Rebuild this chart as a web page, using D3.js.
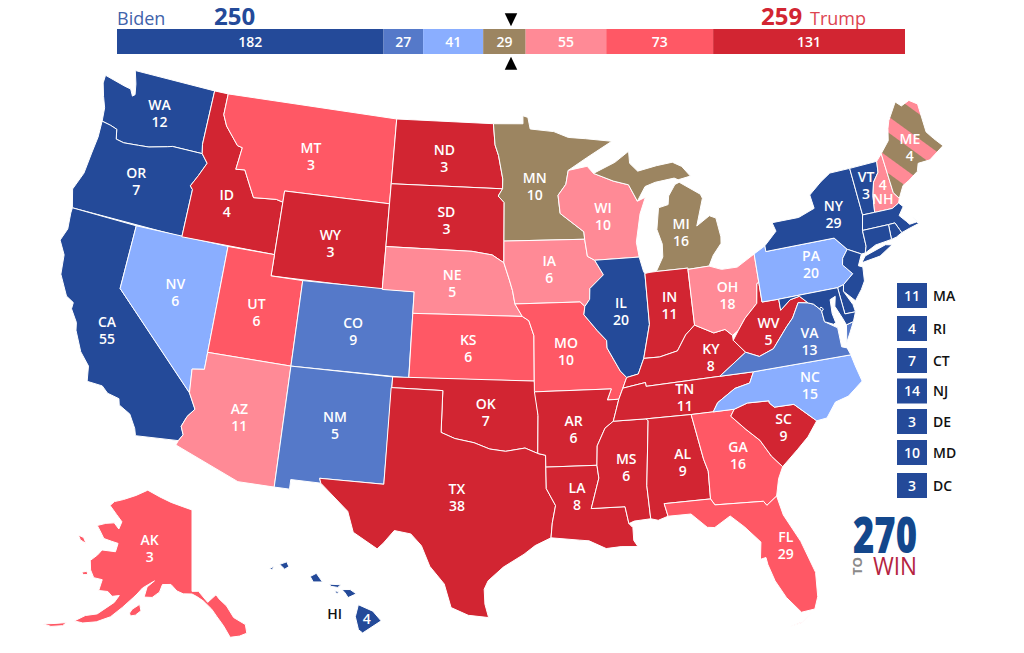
<!DOCTYPE html>
<html>
<head>
<meta charset="utf-8">
<script src="https://cdn.jsdelivr.net/npm/d3@7/dist/d3.min.js"></script>
<style>
  html, body { margin: 0; background: #fff; }
  text { font-family: "Open Sans", sans-serif; }
</style>
</head>
<body>
<div id="chart"></div>
<script>
// top bar data
var barRatings = ['safeD', 'likelyD', 'leanD', 'tossup', 'leanR', 'likelyR', 'safeR'];
var barValues = [182, 27, 41, 29, 55, 73, 131];
var bidenTotal = 250, trumpTotal = 259, totalVotes = 538;

// states
var stateCodes = ['WA','OR','CA','NV','ID','MT','WY','UT','CO','AZ','NM','ND','SD','NE','KS','OK','TX','MN','IA','MO','AR','LA','WI','IL','MS','MI','IN','KY','TN','AL','OH','WV','GA','FL','SC','NC','VA','PA','NY','VT','NH','ME','MA','RI','CT','NJ','DE','MD','DC','AK','HI'];
var stateVotes = [12,7,55,6,4,3,3,6,9,11,5,3,3,5,6,7,38,10,6,10,6,8,10,20,6,16,11,8,11,9,18,5,16,29,9,15,13,20,29,3,4,4,11,4,7,14,3,10,3,3,4];
var stateRatings = ['safeD','safeD','safeD','leanD','safeR','likelyR','safeR','likelyR','likelyD','leanR','likelyD','safeR','safeR','leanR','likelyR','safeR','safeR','tossup','leanR','likelyR','safeR','safeR','leanR','safeD','safeR','tossup','safeR','safeR','safeR','safeR','leanR','safeR','likelyR','likelyR','safeR','leanD','likelyD','leanD','safeD','safeD','leanR','split','safeD','safeD','safeD','safeD','safeD','safeD','safeD','likelyR','safeD'];

// small states listed in the side legend
var sideCodes = ['MA','RI','CT','NJ','DE','MD','DC'];
var sideVotes = [11,4,7,14,3,10,3];

// label anchors, lon/lat
var labelPoints = {
  WA:[-120.4,47.4], OR:[-120.75,44.05], CA:[-120.15,37.01], NV:[-116.7,39.5], ID:[-114.67,44.0], MT:[-109.67,46.86],
  WY:[-107.63,42.95], UT:[-111.6,39.3], CO:[-105.6,39.0], AZ:[-111.58,34.35], NM:[-106.1,34.58], ND:[-100.57,47.36],
  SD:[-100.24,44.45], NE:[-99.7,41.55], KS:[-98.58,38.55], OK:[-97.46,35.6], TX:[-98.98,31.63], MN:[-94.4,46.09],
  IA:[-93.56,42.23], MO:[-92.68,38.4], AR:[-92.4,34.8], LA:[-92.35,31.65], WI:[-89.93,44.6], IL:[-89.2,40.1],
  MS:[-89.53,32.9], MI:[-84.95,43.5], IN:[-86.18,40.22], KY:[-84.05,37.6], TN:[-85.85,35.9], AL:[-86.35,32.9],
  OH:[-82.55,40.35], WV:[-80.4,38.4], GA:[-83.23,32.93], FL:[-81.36,28.43], SC:[-80.45,33.9], NC:[-78.55,35.6],
  VA:[-78.1,37.6], PA:[-77.1,41.08], NY:[-75.05,43.13], VT:[-72.55,44.12], NH:[-71.63,43.53], ME:[-69.1,45.3],
  AK:[-152.5,64.9], HI:[-155.5,19.6]
};

// state outlines, rings of "lon,lat"
var stateOutlines = {
  WA:["-124.7,48.38 -123.2,48.15 -122.75,48.1 -122.5,47.8 -122.35,47.9 -122.5,48.4 -122.8,49 -117.03,49 -117.04,46.42 -116.92,45.99 -118.98,46 -119.3,45.93 -120.5,45.7 -121.2,45.65 -122.2,45.58 -122.75,45.65 -122.9,46.1 -123.4,46.2 -124,46.27 -124.1,46.9 -124.4,47.4 -124.7,48"],
  OR:["-124,46.27 -123.4,46.2 -122.9,46.1 -122.75,45.65 -122.2,45.58 -121.2,45.65 -120.5,45.7 -119.3,45.93 -118.98,46 -116.92,45.99 -116.46,45.6 -116.85,44.95 -117.22,44.4 -117.03,44.25 -117.03,42 -124.21,42 -124.55,42.84 -124.15,43.7 -124.05,44.7 -123.95,45.5"],
  CA:["-124.21,42 -120,42 -120,39 -114.63,35 -114.14,34.3 -114.5,33.9 -114.72,33.4 -114.52,33.03 -114.72,32.72 -117.12,32.53 -117.25,32.85 -117.7,33.45 -118.4,33.75 -118.5,34.03 -119.2,34.15 -119.6,34.42 -120.5,34.45 -120.65,35.15 -121.3,35.7 -121.9,36.6 -122,36.95 -122.5,37.5 -122.5,37.8 -123,38 -123.7,38.9 -123.85,39.8 -124.35,40.4 -124.1,41 -124.21,41.75"],
  NV:["-120,42 -114.04,42 -114.04,36.2 -114.75,36.1 -114.63,35 -120,39"],
  ID:["-117.03,49 -116.05,49 -116.05,48 -115.7,47.5 -114.7,46.7 -114.35,46.65 -114.5,45.6 -113.9,45.65 -113.45,45.05 -113,44.45 -111.5,44.55 -111.05,44.47 -111.05,42 -117.03,42 -117.03,44.25 -117.22,44.4 -116.85,44.95 -116.46,45.6 -116.92,45.99 -117.04,46.42"],
  MT:["-116.05,49 -104.05,49 -104.05,45 -111.05,45 -111.05,44.47 -111.5,44.55 -113,44.45 -113.45,45.05 -113.9,45.65 -114.5,45.6 -114.35,46.65 -114.7,46.7 -115.7,47.5 -116.05,48"],
  WY:["-111.05,45 -104.05,45 -104.05,41 -111.05,41"],
  UT:["-114.04,42 -111.05,42 -111.05,41 -109.05,41 -109.05,37 -114.04,37"],
  CO:["-109.05,41 -102.05,41 -102.05,37 -109.05,37"],
  AZ:["-114.04,37 -109.05,37 -109.05,31.33 -111.07,31.33 -114.81,32.5 -114.72,32.72 -114.52,33.03 -114.72,33.4 -114.5,33.9 -114.14,34.3 -114.63,35 -114.75,36.1 -114.04,36.2"],
  NM:["-109.05,37 -103,37 -103.05,32 -106.62,32 -106.53,31.78 -108.2,31.78 -108.2,31.33 -109.05,31.33"],
  ND:["-104.05,49 -97.23,49 -97.1,48 -96.85,47.5 -96.55,46.4 -96.56,45.94 -104.05,45.94"],
  SD:["-104.05,45.94 -96.56,45.94 -96.85,45.6 -96.45,45.3 -96.45,43.5 -96.45,42.49 -97.2,42.85 -98.5,43 -104.05,43"],
  NE:["-104.05,43 -98.5,43 -97.2,42.85 -96.45,42.49 -96.1,41.7 -95.9,41.2 -95.75,40.58 -95.3,40 -102.05,40 -102.05,41 -104.05,41"],
  KS:["-102.05,40 -95.3,40 -94.9,39.8 -94.6,39.1 -94.62,37 -102.04,37"],
  OK:["-103,37 -94.62,37 -94.43,35.4 -94.48,33.64 -95.2,33.9 -96.3,33.75 -97.2,33.85 -98.1,34.13 -99.2,34.3 -100,34.56 -100,36.5 -103,36.5"],
  TX:["-103.04,36.5 -100,36.5 -100,34.56 -99.2,34.3 -98.1,34.13 -97.2,33.85 -96.3,33.75 -95.2,33.9 -94.48,33.64 -94.04,33.55 -94.04,33 -94.04,32 -93.55,31.2 -93.75,30.4 -93.84,29.7 -94.7,29.35 -95.3,28.95 -96.4,28.35 -97.2,27.7 -97.4,27.3 -97.35,26.6 -97.15,25.97 -98.2,26.06 -99.1,26.4 -99.5,27.5 -100.3,28.3 -100.8,29.25 -101.4,29.77 -102.3,29.88 -102.85,29.25 -103.15,28.97 -104.5,29.65 -104.9,30.6 -106.53,31.78 -106.62,32 -103.05,32"],
  MN:["-97.23,49 -95.15,49 -95.15,49.38 -94.8,49.3 -94.65,48.75 -93,48.6 -92,48.3 -90.8,48.2 -89,48 -90.8,47.3 -92.1,46.75 -92.3,46.1 -92.85,45.6 -92.75,44.75 -91.25,43.85 -91.22,43.5 -96.45,43.5 -96.45,45.3 -96.85,45.6 -96.56,45.94 -96.55,46.4 -96.85,47.5 -97.1,48"],
  IA:["-96.45,43.5 -91.22,43.5 -91.1,42.7 -90.65,42.5 -90.15,41.8 -91.05,41.2 -91.1,40.7 -91.42,40.38 -91.7,40.6 -95.75,40.58 -95.9,41.2 -96.1,41.7 -96.45,42.49"],
  MO:["-95.75,40.58 -91.7,40.6 -91.42,40.38 -91.5,40 -90.75,39.25 -90.2,38.75 -90.2,38.4 -89.5,37.3 -89.15,36.98 -89.42,36.5 -89.7,36 -90.37,36 -90.1,36.5 -94.62,36.5 -94.62,37 -94.6,39.1 -94.9,39.8 -95.3,40"],
  AR:["-94.62,36.5 -90.1,36.5 -90.37,36 -89.7,36 -89.9,35.5 -90.1,35 -90.6,34.7 -91.1,33.9 -91.17,33 -94.04,33 -94.04,33.55 -94.48,33.64 -94.43,35.4"],
  LA:["-94.04,33 -91.17,33 -91.1,32.4 -91.6,31 -89.75,31 -89.6,30.2 -89.4,30 -89.4,29.4 -89.2,29.1 -90.1,29.15 -90.9,29.1 -91.8,29.5 -92.3,29.55 -93.84,29.7 -93.75,30.4 -93.55,31.2 -94.04,32"],
  WI:["-92.1,46.75 -90.8,46.9 -90.4,46.55 -89.1,46.13 -88.1,45.9 -87.6,45.1 -87.05,45.25 -87.5,44.5 -87.9,43.2 -87.8,42.5 -90.65,42.5 -91.1,42.7 -91.22,43.5 -91.25,43.85 -92.75,44.75 -92.85,45.6 -92.3,46.1"],
  IL:["-90.65,42.5 -87.8,42.5 -87.6,41.8 -87.53,41.72 -87.53,39.35 -88.05,37.8 -88.45,37.1 -89.15,36.98 -89.5,37.3 -90.2,38.4 -90.2,38.75 -90.75,39.25 -91.5,40 -91.42,40.38 -91.1,40.7 -91.05,41.2 -90.15,41.8"],
  MS:["-90.1,35 -88.2,35 -88.1,34.9 -88.47,31.9 -88.4,30.35 -89.3,30.3 -89.6,30.2 -89.75,31 -91.6,31 -91.1,32.4 -91.17,33 -91.1,33.9 -90.6,34.7"],
  MI:["-86.8,41.76 -84.8,41.76 -84.8,41.7 -83.45,41.73 -83.1,42.2 -82.5,42.7 -82.45,43 -82.6,43.9 -83,44.05 -83.9,43.65 -83.3,44.9 -83.4,45.1 -84.7,45.78 -85,45.7 -85.5,45.2 -85.6,44.8 -86.25,44.7 -86.5,43.7 -86.25,43 -86.3,42.4",
      "-90.4,46.55 -89.1,46.13 -88.1,45.9 -87.6,45.1 -87,45.75 -86.3,45.9 -85,46 -84.75,45.9 -83.9,46 -84.4,46.5 -85,46.75 -86.1,46.67 -87.4,46.5 -87.9,46.9 -87.9,47.47 -88.9,47 -90.4,46.55"],
  IN:["-87.53,41.72 -87.2,41.75 -86.8,41.76 -84.8,41.76 -84.8,39.1 -85.4,38.7 -86,38 -87.1,37.8 -88.05,37.8 -87.53,39.35"],
  KY:["-89.42,36.5 -88.07,36.68 -88.05,36.5 -83.68,36.6 -81.97,37.54 -82.6,38.17 -82.6,38.4 -83,38.72 -83.7,38.63 -84.8,39.1 -85.4,38.7 -86,38 -87.1,37.8 -88.05,37.8 -88.45,37.1 -89.15,36.98"],
  TN:["-90.1,35 -88.2,35 -85.6,35 -84.32,35 -84,35.4 -82.9,35.95 -82,36.1 -81.68,36.59 -83.68,36.6 -88.05,36.5 -88.07,36.68 -89.42,36.5 -89.7,36 -89.9,35.5"],
  AL:["-88.2,35 -85.6,35 -85.18,32.87 -85,32.3 -85.05,31 -87.6,31 -87.45,30.4 -88,30.25 -88.4,30.35 -88.47,31.9 -88.1,34.9"],
  OH:["-80.52,41.98 -81.7,41.5 -82.7,41.5 -83.45,41.73 -84.8,41.7 -84.8,39.1 -83.7,38.63 -83,38.72 -82.6,38.4 -82.2,38.6 -81.7,39.1 -80.85,39.7 -80.65,40.6 -80.52,40.64"],
  WV:["-81.97,37.54 -81.2,37.25 -80.3,37.5 -79.3,38.4 -78.85,38.75 -78.35,39.4 -77.75,39.3 -78.2,39.68 -78.8,39.6 -79.48,39.2 -79.48,39.72 -80.52,39.72 -80.52,40.64 -80.65,40.6 -80.85,39.7 -81.7,39.1 -82.2,38.6 -82.6,38.17"],
  GA:["-85.6,35 -83.1,35 -83.35,34.7 -82.6,34 -81.9,33.4 -81.4,32.6 -80.87,32.03 -81.2,31.5 -81.45,30.72 -82.05,30.36 -82.2,30.57 -84.85,30.7 -85.05,31 -85,32.3 -85.18,32.87"],
  FL:["-87.6,31 -85.05,31 -84.85,30.7 -82.2,30.57 -82.05,30.36 -81.45,30.72 -81.25,29.8 -80.55,28.45 -80.05,26.9 -80.15,25.75 -80.4,25.2 -81.1,25.15 -81.75,25.95 -82.2,26.8 -82.45,27.6 -82.5,27.95 -82.8,27.9 -82.65,28.7 -83.4,29.5 -84.1,30.1 -85,29.65 -85.4,29.7 -86.2,30.4 -87.45,30.4",
      "-81.8,24.55 -81.2,24.65 -80.5,25.1 -81.1,24.7"],
  SC:["-83.1,35 -82.3,35.2 -81.05,35.15 -81.05,35.05 -80.8,34.82 -79.67,34.8 -78.55,33.86 -79.2,33.2 -79.9,32.7 -80.87,32.03 -81.4,32.6 -81.9,33.4 -82.6,34 -83.35,34.7"],
  NC:["-84.32,35 -83.1,35 -82.3,35.2 -81.05,35.15 -81.05,35.05 -80.8,34.82 -79.67,34.8 -78.55,33.86 -77.95,33.9 -77.3,34.55 -76.5,34.7 -75.55,35.25 -75.75,36 -75.87,36.55 -81.68,36.59 -82,36.1 -82.9,35.95 -84,35.4"],
  VA:["-83.68,36.6 -81.68,36.59 -75.87,36.55 -76,36.9 -76.3,37 -76.3,37.9 -77,38.3 -77.05,38.85 -77.45,39.2 -77.75,39.3 -78.35,39.4 -78.85,38.75 -79.3,38.4 -80.3,37.5 -81.2,37.25 -81.97,37.54",
      "-75.95,37.15 -75.65,37.55 -75.3,38.03 -75.75,37.95"],
  PA:["-80.52,41.98 -79.76,42.27 -79.76,42 -75.35,42 -74.7,41.36 -75.1,41 -75.2,40.7 -74.7,40.2 -75.4,39.8 -75.8,39.72 -79.48,39.72 -80.52,39.72"],
  NY:["-79.76,42.27 -79.76,42 -75.35,42 -74.7,41.36 -73.9,41 -73.65,41 -73.5,41.3 -73.49,42.05 -73.25,42.75 -73.35,45 -74.7,45 -75.4,44.7 -76.3,44.2 -76.2,43.55 -77.3,43.28 -79.05,43.27 -78.9,42.85",
      "-74,40.6 -73.7,40.87 -72.3,41.15 -71.9,41.07 -72.8,40.7"],
  VT:["-73.35,45 -71.5,45.01 -71.6,44.5 -72.05,44.1 -72.3,43.5 -72.46,42.73 -73.25,42.75"],
  NH:["-71.5,45.01 -71.08,45.3 -70.98,43.4 -70.7,43.07 -70.82,42.87 -71.3,42.7 -72.46,42.73 -72.3,43.5 -72.05,44.1 -71.6,44.5"],
  ME:["-71.08,45.3 -70.4,45.8 -70.2,46.35 -70,46.7 -69.23,47.46 -68.9,47.2 -68.3,47.35 -67.8,47.07 -67.8,45.7 -67.45,45.3 -67,44.85 -68.1,44.4 -68.9,44.4 -69.1,44.05 -69.8,43.75 -70.25,43.6 -70.7,43.07 -70.98,43.4"],
  MA:["-73.49,42.05 -73.25,42.75 -72.46,42.73 -71.3,42.7 -70.82,42.87 -70.6,42.65 -71,42.3 -70.65,41.95 -70.5,41.78 -70,41.8 -70.2,42.07 -69.95,41.7 -70.6,41.6 -71.12,41.5 -71.2,41.67 -71.38,42.02 -71.8,42.02"],
  RI:["-71.8,42.02 -71.38,42.02 -71.2,41.67 -71.12,41.5 -71.5,41.37 -71.85,41.32"],
  CT:["-73.49,42.05 -71.8,42.02 -71.85,41.32 -72.9,41.25 -73.65,41 -73.5,41.3"],
  NJ:["-74.7,41.36 -73.9,41 -74.25,40.5 -74,40.4 -74.1,39.75 -74.4,39.4 -74.9,38.95 -75.5,39.5 -75.4,39.8 -74.7,40.2 -75.2,40.7 -75.1,41"],
  DE:["-75.8,39.72 -75.4,39.8 -75.5,39.5 -75.1,38.8 -75.05,38.45 -75.7,38.46"],
  MD:["-79.48,39.72 -75.8,39.72 -75.7,38.46 -75.05,38.45 -75.3,38.03 -75.75,37.95 -75.9,38.3 -76.2,38.9 -76.05,39.35 -76.4,39.25 -76.45,38.6 -76.35,38.15 -76.5,38.1 -77,38.3 -77.05,38.85 -77.45,39.2 -77.75,39.3 -78.2,39.68 -78.8,39.6 -79.48,39.2"],
  DC:["-77.12,38.93 -77.04,39 -76.91,38.89 -77.04,38.79"],
  AK:["-141,69.65 -141,60.3 -139.5,60.3 -137.5,59 -135.5,59.8 -134.9,59.3 -133.4,58.4 -132.2,57 -130,56 -130,55 -131.5,54.8 -133.4,54.8 -134.5,56.2 -135.7,57.3 -136.7,58.2 -138.5,59.2 -139.9,59.7 -141,60 -143,60 -144.5,60.3 -146,61 -148,60.9 -148.5,60 -150,59.3 -151.8,59.2 -151.5,60.4 -150,61.2 -152.5,60.2 -153.5,59.4 -154.2,58.9 -156,57.6 -158,56.2 -160.5,55.2 -163,54.6 -164.7,54.5 -163,55.5 -160.8,56.1 -158,57.9 -157.3,58.8 -158.8,58.5 -160,58.9 -162,58.7 -162,60 -164,59.9 -165.3,60.6 -166.2,61.6 -165,62.5 -164.4,63.2 -161,63.5 -161,64.5 -162.8,64.5 -165,64.5 -166.8,65.2 -168,65.6 -166,66.2 -163.8,66.6 -162,66.1 -161.8,67 -164,67.6 -166.8,68.3 -166,68.9 -163.5,69.5 -160,70.4 -156.6,71.35 -152,70.85 -148,70.4 -144,70",
      "-154.3,57.1 -153.9,57.6 -152.5,58.3 -152,57.6 -153,57 -154,56.8",
      "-167,60 -166,60.3 -165.5,60 -166.5,59.8",
      "-171.5,63.7 -170,63.7 -168.8,63.2 -170.5,63.3",
      "-170,52.8 -168,53.4 -166,54 -166.5,53.5 -168.5,52.9"],
  HI:["-155.9,20.25 -155.2,19.95 -154.8,19.5 -155.7,18.95 -155.9,19.1 -156.05,19.7",
      "-156.7,20.95 -156.3,20.95 -156,20.75 -156.4,20.58 -156.55,20.8",
      "-157.3,21.2 -156.75,21.17 -156.9,21.05 -157.25,21.1",
      "-157.05,20.9 -156.85,20.85 -156.95,20.75",
      "-158.25,21.55 -157.95,21.7 -157.65,21.3 -158.1,21.3",
      "-159.75,22.1 -159.4,22.22 -159.3,22 -159.5,21.88",
      "-160.25,21.9 -160.05,22 -160.1,21.85"]
};

var colors = {
  safeD: '#244a99', likelyD: '#5579c9', leanD: '#8aaeff', tossup: '#9c8561',
  leanR: '#ff8a96', likelyR: '#ff5865', safeR: '#d22532', split: 'url(#meStripes)'
};

var svg = d3.select('#chart').append('svg').attr('width', 1024).attr('height', 653);

// stripes for Maine
var stripes = svg.append('defs').append('pattern')
    .attr('id', 'meStripes')
    .attr('patternUnits', 'userSpaceOnUse')
    .attr('width', 33).attr('height', 33)
    .attr('patternTransform', 'translate(907,130) rotate(36)');
stripes.append('rect').attr('width', 33).attr('height', 33).attr('fill', colors.tossup);
stripes.append('rect').attr('width', 33).attr('height', 13).attr('fill', colors.leanR);

// projections
var lower48 = d3.geoAlbers().scale(1225).translate([501, 344.5]);
var alaska = d3.geoConicEqualArea().rotate([141, 0]).center([0, 60]).parallels([55, 65]).scale(500).translate([192, 594]);
var hawaii = d3.geoConicEqualArea().rotate([157, 0]).center([-3, 19.9]).parallels([8, 18]).scale(1250).translate([274, 612]);

function projectionFor(code) {
  if (code === 'AK') return alaska;
  if (code === 'HI') return hawaii;
  return lower48;
}

function parseRing(str) {
  var ring = str.split(' ').map(function(p) { return p.split(',').map(Number); });
  ring.push(ring[0]);
  // d3 geo wants the small side of the ring as interior
  if (d3.geoArea({type: 'Polygon', coordinates: [ring]}) > 2 * Math.PI) ring.reverse();
  return [ring];
}

// states
var states = stateCodes.map(function(code, i) {
  return {
    code: code,
    votes: stateVotes[i],
    rating: stateRatings[i],
    geo: {type: 'MultiPolygon', coordinates: stateOutlines[code].map(parseRing)}
  };
});

svg.append('g').selectAll('path')
    .data(states)
    .enter().append('path')
    .attr('d', function(d) { return d3.geoPath(projectionFor(d.code))(d.geo); })
    .attr('fill', function(d) { return colors[d.rating]; })
    .attr('stroke', '#fff')
    .attr('stroke-width', 1)
    .attr('stroke-linejoin', 'round');

// state labels
var labelled = states.filter(function(d) { return labelPoints[d.code]; });
var labels = svg.append('g').selectAll('g')
    .data(labelled)
    .enter().append('g')
    .attr('transform', function(d) {
      return 'translate(' + projectionFor(d.code)(labelPoints[d.code]) + ')';
    })
    .attr('fill', '#fff')
    .attr('font-size', 14)
    .attr('font-weight', 600)
    .attr('text-anchor', 'middle');

labels.filter(function(d) { return d.code !== 'HI'; }).append('text')
    .attr('y', function(d) { return d.code === 'NH' ? 11 : -2; })
    .text(function(d) { return d.code; });
labels.append('text')
    .attr('y', function(d) {
      if (d.code === 'NH') return -3;
      return d.code === 'HI' ? 5 : 15;
    })
    .text(function(d) { return d.votes; });

// HI name sits off the islands
svg.append('text')
    .attr('transform', 'translate(' + hawaii([-157.05, 19.6]) + ')')
    .attr('text-anchor', 'middle')
    .attr('font-size', 14).attr('font-weight', 600).attr('fill', '#111')
    .text('HI');

// top bar
var barX = d3.scaleLinear().domain([0, totalVotes]).range([117, 905]);
var cumulative = d3.cumsum(barValues);
var segments = barValues.map(function(v, i) {
  return {value: v, rating: barRatings[i], start: cumulative[i] - v, end: cumulative[i]};
});

var bar = svg.append('g').selectAll('g')
    .data(segments)
    .enter().append('g');

bar.append('rect')
    .attr('x', function(d) { return barX(d.start); })
    .attr('y', 29)
    .attr('width', function(d) { return barX(d.end) - barX(d.start); })
    .attr('height', 25)
    .attr('fill', function(d) { return colors[d.rating]; });

bar.append('text')
    .attr('x', function(d) { return barX((d.start + d.end) / 2); })
    .attr('y', 47)
    .attr('text-anchor', 'middle')
    .attr('fill', '#fff')
    .attr('font-size', 14)
    .attr('font-weight', 600)
    .text(function(d) { return d.value; });

// totals
svg.append('text').attr('x', 117).attr('y', 25).attr('font-size', 18).attr('fill', '#3f63ab').text('Biden');
svg.append('text').attr('x', 214).attr('y', 25).attr('font-size', 24).attr('font-weight', 700).attr('fill', colors.safeD).text(bidenTotal);
svg.append('text').attr('x', 761).attr('y', 25).attr('font-size', 24).attr('font-weight', 700).attr('fill', colors.safeR).text(trumpTotal);
svg.append('text').attr('x', 810).attr('y', 25).attr('font-size', 18).attr('fill', '#dd4450').text('Trump');

// 270 markers
var triangle = d3.symbol().type(d3.symbolTriangle).size(75);
svg.append('path').attr('d', triangle).attr('fill', '#000').attr('transform', 'translate(511,17.5) rotate(180) scale(0.95,1.15)');
svg.append('path').attr('d', triangle).attr('fill', '#000').attr('transform', 'translate(511,65.5) scale(0.95,1.15)');

// side legend
var sideY = [295.5, 328.5, 360.5, 391, 421.5, 452.5, 485.5];
var side = svg.append('g').selectAll('g')
    .data(sideCodes)
    .enter().append('g')
    .attr('transform', function(d, i) { return 'translate(912,' + sideY[i] + ')'; });

side.append('rect')
    .attr('x', -15).attr('y', -12.5)
    .attr('width', 30).attr('height', 25)
    .attr('fill', colors.safeD);

side.append('text')
    .attr('y', 5).attr('text-anchor', 'middle')
    .attr('fill', '#fff').attr('font-size', 14).attr('font-weight', 600)
    .text(function(d, i) { return sideVotes[i]; });

side.append('text')
    .attr('x', 21).attr('y', 5)
    .attr('fill', '#111').attr('font-size', 14).attr('font-weight', 600)
    .text(function(d) { return d; });

// logo
var logo = svg.append('g');
logo.append('text').attr('x', 853).attr('y', 553)
    .attr('font-size', 50).attr('font-weight', 800)
    .attr('textLength', 64).attr('lengthAdjust', 'spacingAndGlyphs')
    .attr('fill', '#13478c').text('270');
logo.append('text').attr('x', 873).attr('y', 575)
    .attr('font-size', 25).attr('font-weight', 400)
    .attr('textLength', 44).attr('lengthAdjust', 'spacingAndGlyphs')
    .attr('fill', '#b52340').text('WIN');
logo.append('text').attr('transform', 'translate(862,575) rotate(-90)')
    .attr('font-size', 12).attr('font-weight', 700)
    .attr('textLength', 18).attr('lengthAdjust', 'spacingAndGlyphs')
    .attr('fill', '#8a8a8a').text('TO');
</script>
</body>
</html>
